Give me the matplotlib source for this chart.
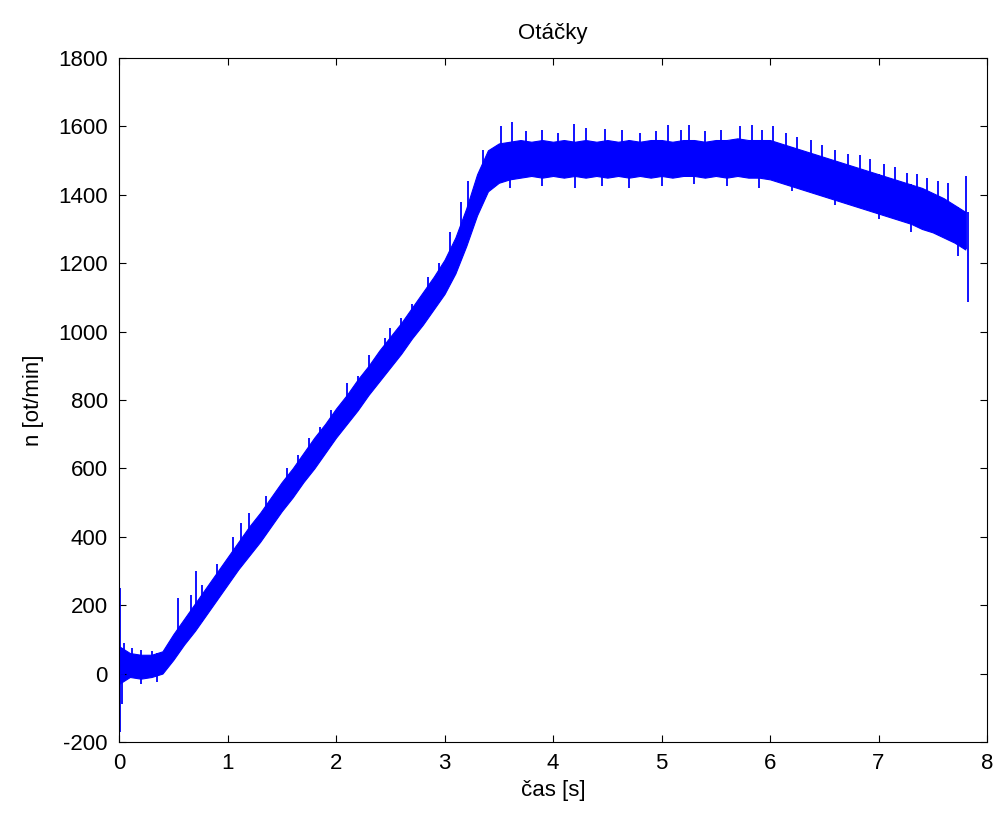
import numpy as np
import matplotlib
matplotlib.use('Agg')
import matplotlib.pyplot as plt

# --------------------------------------------------
# DATOS: envolvente inferior/superior de la señal
# --------------------------------------------------
cas = [0.0, 0.1, 0.2, 0.3, 0.4, 0.5, 0.6, 0.7, 0.8, 0.9,
       1.0, 1.1, 1.2, 1.3, 1.4, 1.5, 1.6, 1.7, 1.8, 1.9,
       2.0, 2.1, 2.2, 2.3, 2.4, 2.5, 2.6, 2.7, 2.8, 2.9,
       3.0, 3.1, 3.2, 3.3, 3.4, 3.5, 3.6, 3.7, 3.8, 3.9,
       4.0, 4.1, 4.2, 4.3, 4.4, 4.5, 4.6, 4.7, 4.8, 4.9,
       5.0, 5.1, 5.2, 5.3, 5.4, 5.5, 5.6, 5.7, 5.8, 5.9,
       6.0, 6.1, 6.2, 6.3, 6.4, 6.5, 6.6, 6.7, 6.8, 6.9,
       7.0, 7.1, 7.2, 7.3, 7.4, 7.5, 7.6, 7.7, 7.8]

n_dolni = [-30, -10, -15, -10, 0, 40, 85, 125, 170, 215,
           260, 305, 345, 385, 430, 475, 515, 560, 600, 645,
           690, 730, 770, 815, 855, 895, 935, 980, 1020, 1065,
           1110, 1170, 1250, 1340, 1410, 1435, 1445, 1450, 1455, 1450,
           1455, 1450, 1455, 1450, 1455, 1450, 1455, 1450, 1455, 1450,
           1455, 1450, 1455, 1455, 1450, 1455, 1450, 1455, 1450, 1450,
           1445, 1435, 1425, 1415, 1405, 1395, 1385, 1375, 1365, 1355,
           1345, 1335, 1325, 1315, 1300, 1290, 1275, 1260, 1240]

n_horni = [80, 60, 55, 55, 65, 115, 160, 205, 250, 295,
           340, 385, 430, 470, 515, 560, 600, 645, 690, 730,
           775, 815, 860, 900, 945, 985, 1025, 1070, 1115, 1160,
           1210, 1275, 1360, 1460, 1530, 1550, 1555, 1560, 1555, 1560,
           1555, 1560, 1555, 1560, 1555, 1560, 1555, 1560, 1555, 1560,
           1560, 1555, 1560, 1560, 1555, 1560, 1560, 1565, 1560, 1560,
           1560, 1550, 1540, 1530, 1520, 1510, 1500, 1490, 1480, 1470,
           1460, 1450, 1440, 1430, 1420, 1405, 1390, 1370, 1350]

# picos hacia arriba (t, valor)
spike_up_t = [0.01, 0.05, 0.12, 0.2, 0.3, 0.54, 0.66, 0.71, 0.76, 0.9,
              1.05, 1.12, 1.2, 1.35, 1.55, 1.65, 1.75, 1.85, 1.95, 2.1,
              2.2, 2.3, 2.45, 2.5, 2.6, 2.7, 2.85, 2.95, 3.05, 3.15,
              3.22, 3.35, 3.52, 3.62, 3.75, 3.9, 4.05, 4.19, 4.3, 4.48,
              4.64, 4.8, 4.95, 5.06, 5.18, 5.25, 5.4, 5.55, 5.72, 5.83,
              5.93, 6.03, 6.15, 6.25, 6.38, 6.48, 6.6, 6.72, 6.83, 6.92,
              7.05, 7.15, 7.26, 7.35, 7.45, 7.55, 7.64, 7.81]
spike_up_v = [250, 90, 75, 70, 65, 220, 230, 300, 260, 320,
              400, 440, 470, 520, 600, 640, 690, 720, 770, 850,
              870, 930, 980, 1010, 1040, 1080, 1160, 1200, 1290, 1380,
              1440, 1530, 1600, 1613, 1585, 1590, 1580, 1607, 1595, 1592,
              1590, 1580, 1585, 1604, 1590, 1604, 1585, 1590, 1601, 1604,
              1590, 1601, 1580, 1569, 1560, 1545, 1530, 1520, 1516, 1505,
              1490, 1480, 1465, 1460, 1450, 1440, 1434, 1455]

# picos hacia abajo (t, valor)
spike_dn_t = [0.01, 0.03, 0.2, 0.35, 3.6, 3.9, 4.2, 4.45, 4.7, 5.0,
              5.3, 5.6, 5.9, 6.2, 6.6, 7.0, 7.3, 7.73, 7.82]
spike_dn_v = [-170, -90, -30, -25, 1420, 1425, 1420, 1425, 1420, 1425,
              1430, 1425, 1420, 1410, 1370, 1330, 1290, 1220, 1085]

xticks = [0, 1, 2, 3, 4, 5, 6, 7, 8]
yticks = [-200, 0, 200, 400, 600, 800, 1000, 1200, 1400, 1600, 1800]

# --------------------------------------------------
# FIGURA
# --------------------------------------------------
plt.rcParams['font.family'] = ['Liberation Sans', 'DejaVu Sans']
plt.rcParams['font.size'] = 16
plt.rcParams['axes.unicode_minus'] = False

fig = plt.figure(figsize=(9.97, 8.14), dpi=100)
ax = fig.add_axes([0.1194, 0.0885, 0.8706, 0.8403])

modra = '#0000ff'
ax.fill_between(cas, n_dolni, n_horni, color=modra, linewidth=0.8, edgecolor=modra)

# picos: desde el interior de la banda hasta el valor leído
base_up = np.interp(spike_up_t, cas, n_dolni)
base_dn = np.interp(spike_dn_t, cas, n_horni)
ax.vlines(spike_up_t, base_up, spike_up_v, color=modra, linewidth=1.3)
ax.vlines(spike_dn_t, spike_dn_v, base_dn, color=modra, linewidth=1.3)

ax.set_xlim(0, 8)
ax.set_ylim(-200, 1800)
ax.set_xticks(xticks)
ax.set_yticks(yticks)
ax.tick_params(direction='in', length=5, width=0.8, top=True, right=True,
               pad=8, labelsize=16, colors='black')
for s in ax.spines.values():
    s.set_linewidth(0.8)

ax.set_title('Otáčky', fontsize=16, pad=14)
ax.set_xlabel('čas [s]', fontsize=16, labelpad=4)
ax.set_ylabel('n [ot/min]', fontsize=16, labelpad=10)

fig.savefig('out.png', dpi=100)
